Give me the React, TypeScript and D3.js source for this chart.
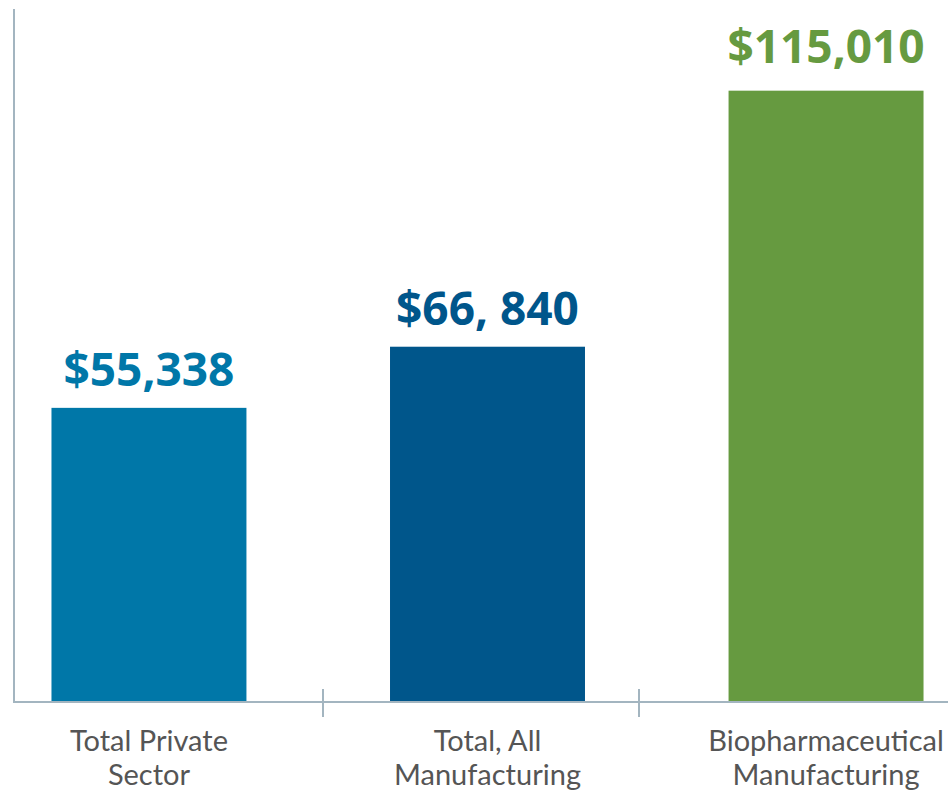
import React from "react";
import * as d3 from "d3";

const categories = ["Total Private Sector", "Total, All Manufacturing", "Biopharmaceutical Manufacturing"];
const categoryLines = [["Total Private", "Sector"], ["Total, All", "Manufacturing"], ["Biopharmaceutical", "Manufacturing"]];
const values = [55338, 66840, 115010];
const valueLabels = ["$55,338", "$66, 840", "$115,010"];
const colors = ["#0077A8", "#00568B", "#669A40"];

const W = 948;
const H = 794;

export default function App() {
  const y = d3.scaleLinear().domain([0, 130000]).range([702, 11]);
  const xBars = d3.scaleBand<string>().domain(categories).range([14, 961]).paddingInner(0.4241).paddingOuter(0.1107);
  const xAxis = d3.scaleBand<string>().domain(categories).range([7, 955]);
  const axisColor = "#A3B5C0";
  const tickXs = categories.slice(1).map((c) => xAxis(c)!);
  return (
    <svg width={W} height={H} style={{ position: "absolute", left: 0, top: 0, background: "#fff" }}>
      {categories.map((c, i) => (
        <rect key={c} x={xBars(c)} y={y(values[i])} width={xBars.bandwidth()} height={y(0) - y(values[i])} fill={colors[i]} />
      ))}
      <line x1={14} x2={14} y1={9} y2={y(0)} stroke={axisColor} strokeWidth={2} />
      <line x1={13} x2={W} y1={y(0)} y2={y(0)} stroke={axisColor} strokeWidth={2} />
      {tickXs.map((tx, i) => (
        <line key={i} x1={tx} x2={tx} y1={y(0) - 13} y2={y(0) + 15} stroke={axisColor} strokeWidth={2} />
      ))}
      {categories.map((c, i) => (
        <text key={c} x={xBars(c)! + xBars.bandwidth() / 2} y={y(values[i]) - 22 + (i === 2 ? -6 : 0)} textAnchor="middle"
          fontFamily="'Open Sans', sans-serif" fontWeight={700} fontSize={46} fill={colors[i]}>
          {valueLabels[i]}
        </text>
      ))}
      {categories.map((c, i) => (
        <text key={c} textAnchor="middle" fontFamily="Lato, sans-serif" fontSize={29} fill="#555">
          {categoryLines[i].map((line, j) => (
            <tspan key={j} x={xBars(c)! + xBars.bandwidth() / 2} y={751 + j * 34}>{line}</tspan>
          ))}
        </text>
      ))}
    </svg>
  );
}
